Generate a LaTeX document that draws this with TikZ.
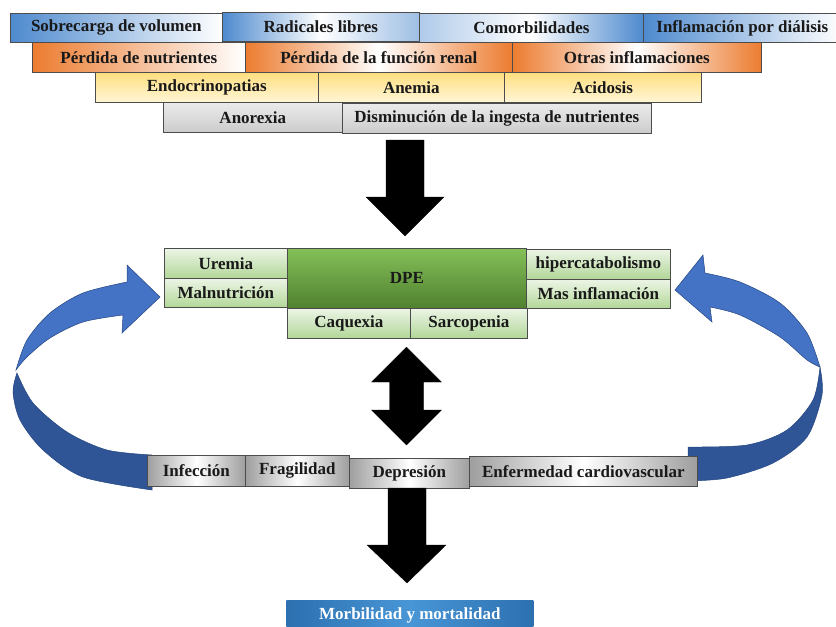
\documentclass[tikz,border=0pt]{standalone}
\usepackage{fontspec}
\setmainfont{Liberation Serif}
\begin{document}
\begin{tikzpicture}[x=1pt,y=-1pt,
  cell/.style={draw=black!70, line width=0.7pt, anchor=north west, inner sep=0pt,
    font=\bfseries\fontsize{17}{19}\selectfont, text=black!90},
  blueLR/.style={cell, left color=cblue, right color=white},
  blueLMR/.style={cell, left color=cblue, right color=cblue!55, middle color=white},
  blueRL/.style={cell, left color=cblue!45, right color=cblue, middle color=white},
  orangeLR/.style={cell, left color=corange, right color=white},
  orangeLMR/.style={cell, left color=corange, right color=corange, middle color=white},
  yel/.style={cell, top color=cyellow, bottom color=cyellowlight},
  grey/.style={cell, top color=black!8, bottom color=black!20},
  lgreen/.style={cell, top color=cgreenlight, bottom color=cgreenmid},
  dgreen/.style={cell, top color=cgreentop, bottom color=cgreenbot},
  metal/.style={cell, left color=black!38, right color=black!38, middle color=white},
  morb/.style={cell, draw=none, left color=cmorbedge, right color=cmorbedge, middle color=cmorbmid, text=white},
  blockarrow/.style={fill=black, draw=black, line width=0.3pt, line join=miter},
  bandlight/.style={fill=clight, draw=cbandline, line width=0.5pt},
  banddark/.style={fill=cdark, draw=cbandline, line width=0.5pt}
]
\definecolor{cblue}{RGB}{78,138,206}
\definecolor{corange}{RGB}{236,124,48}
\definecolor{cyellow}{RGB}{255,222,125}
\definecolor{cyellowlight}{RGB}{255,246,215}
\definecolor{cgreenlight}{RGB}{236,245,230}
\definecolor{cgreenmid}{RGB}{178,215,152}
\definecolor{cgreentop}{RGB}{132,192,88}
\definecolor{cgreenbot}{RGB}{80,128,48}
\definecolor{cmorbedge}{RGB}{44,112,176}
\definecolor{cmorbmid}{RGB}{72,150,214}
\definecolor{clight}{RGB}{68,114,196}
\definecolor{cdark}{RGB}{47,85,151}
\definecolor{cbandline}{RGB}{38,70,128}

\useasboundingbox (0,0) rectangle (836,627);
\clip (0,0) rectangle (836,627);

% ---- causes, four overlapping rows ----
\node[blueLR,  minimum width=212, minimum height=29] (sv)  at (10,13)  {Sobrecarga de volumen};
\node[blueLMR, minimum width=197, minimum height=29] (rl)  at (222,12) {Radicales libres};
\node[blueRL,  minimum width=224, minimum height=29] (com) at (419,13) {Comorbilidades};
\node[blueLR,  minimum width=198, minimum height=29] (ipd) at (643,13) {Inflamación por diálisis};

\node[orangeLR,  minimum width=213, minimum height=30] (pn)  at (32,42)  {Pérdida de nutrientes};
\node[orangeLMR, minimum width=267, minimum height=30] (pfr) at (245,42) {Pérdida de la función renal};
\node[orangeLMR, minimum width=249, minimum height=30] (oi)  at (512,42) {Otras inflamaciones};

\node[yel, minimum width=223, minimum height=30] (endo) at (95,72)  {Endocrinopatias};
\node[yel, minimum width=186, minimum height=30] (anem) at (318,72) {Anemia};
\node[yel, minimum width=197, minimum height=30] (acid) at (504,72) {Acidosis};

\node[grey, minimum width=179, minimum height=30] (anor) at (163,102) {Anorexia};
\node[grey, minimum width=309, minimum height=30] (ding) at (342,103) {Disminución de la ingesta de nutrientes};

% ---- arrow down to DPE ----
\fill[blockarrow] (386,140) -- (424,140) -- (424,197) -- (444,197) -- (405,236)
  -- (366,197) -- (386,197) -- cycle;

% ---- curved feedback arrows ----
\path[banddark] (17,373) -- plot[smooth] coordinates {(17,373) (13,392) (20,420) (43,450) (83,477) (152,490)}
  -- (152,455) -- plot[smooth] coordinates {(152,455) (107,450) (67,432) (33,403) (17,373)} -- cycle;
\path[bandlight] (16,370) -- plot[smooth] coordinates {(16,370) (27,340) (50,313) (83,293) (127,282)}
  -- (127,265) -- (160,297) -- (122,333) -- (123,315)
  -- plot[smooth] coordinates {(123,315) (83,322) (50,338) (27,357) (16,370)} -- cycle;

\path[banddark] (820,367) -- plot[smooth] coordinates {(820,367) (822,395) (807,437) (773,463) (727,478) (688,481)}
  -- (688,447) -- plot[smooth] coordinates {(688,447) (747,445) (787,430) (813,400) (820,367)} -- cycle;
\path[bandlight] (820,367) -- plot[smooth] coordinates {(820,367) (807,333) (780,303) (740,282) (705,273)}
  -- (703,255) -- (675,290) -- (712,322) -- (710,307)
  -- plot[smooth] coordinates {(710,307) (740,315) (780,337) (807,360) (820,367)} -- cycle;

% ---- DPE block ----
\node[lgreen, minimum width=123, minimum height=30] (urem) at (164,248) {Uremia};
\node[lgreen, minimum width=123, minimum height=29] (maln) at (164,278) {Malnutrición};
\node[dgreen, minimum width=239, minimum height=60] (dpe)  at (287,248) {DPE};
\node[lgreen, minimum width=144, minimum height=30] (hipe) at (526,249) {hipercatabolismo};
\node[lgreen, minimum width=144, minimum height=29] (masi) at (526,279) {Mas inflamación};
\node[lgreen, minimum width=123, minimum height=30] (caq)  at (287,308) {Caquexia};
\node[lgreen, minimum width=117, minimum height=30] (sarc) at (410,308) {Sarcopenia};

% ---- two-way arrow ----
\fill[blockarrow] (406.5,347) -- (441.5,382) -- (423.5,382) -- (423.5,410) -- (441.5,410)
  -- (406.5,445) -- (371.5,410) -- (389.5,410) -- (389.5,382) -- (371.5,382) -- cycle;

% ---- consequences ----
\node[metal, minimum width=98,  minimum height=31] (inf)  at (147,455) {Infección};
\node[metal, minimum width=104, minimum height=31] (frag) at (245,455) {Fragilidad};
\node[metal, minimum width=120, minimum height=30] (dep)  at (349,458) {Depresión};
\node[metal, minimum width=228, minimum height=30] (enf)  at (469,456) {Enfermedad cardiovascular};

% ---- arrow down to outcome ----
\fill[blockarrow] (388,488) -- (426,488) -- (426,545) -- (446,545) -- (407,583)
  -- (367,545) -- (388,545) -- cycle;

\node[morb, minimum width=247, minimum height=30] (mm) at (286,600) {Morbilidad y mortalidad};
\end{tikzpicture}
\end{document}
